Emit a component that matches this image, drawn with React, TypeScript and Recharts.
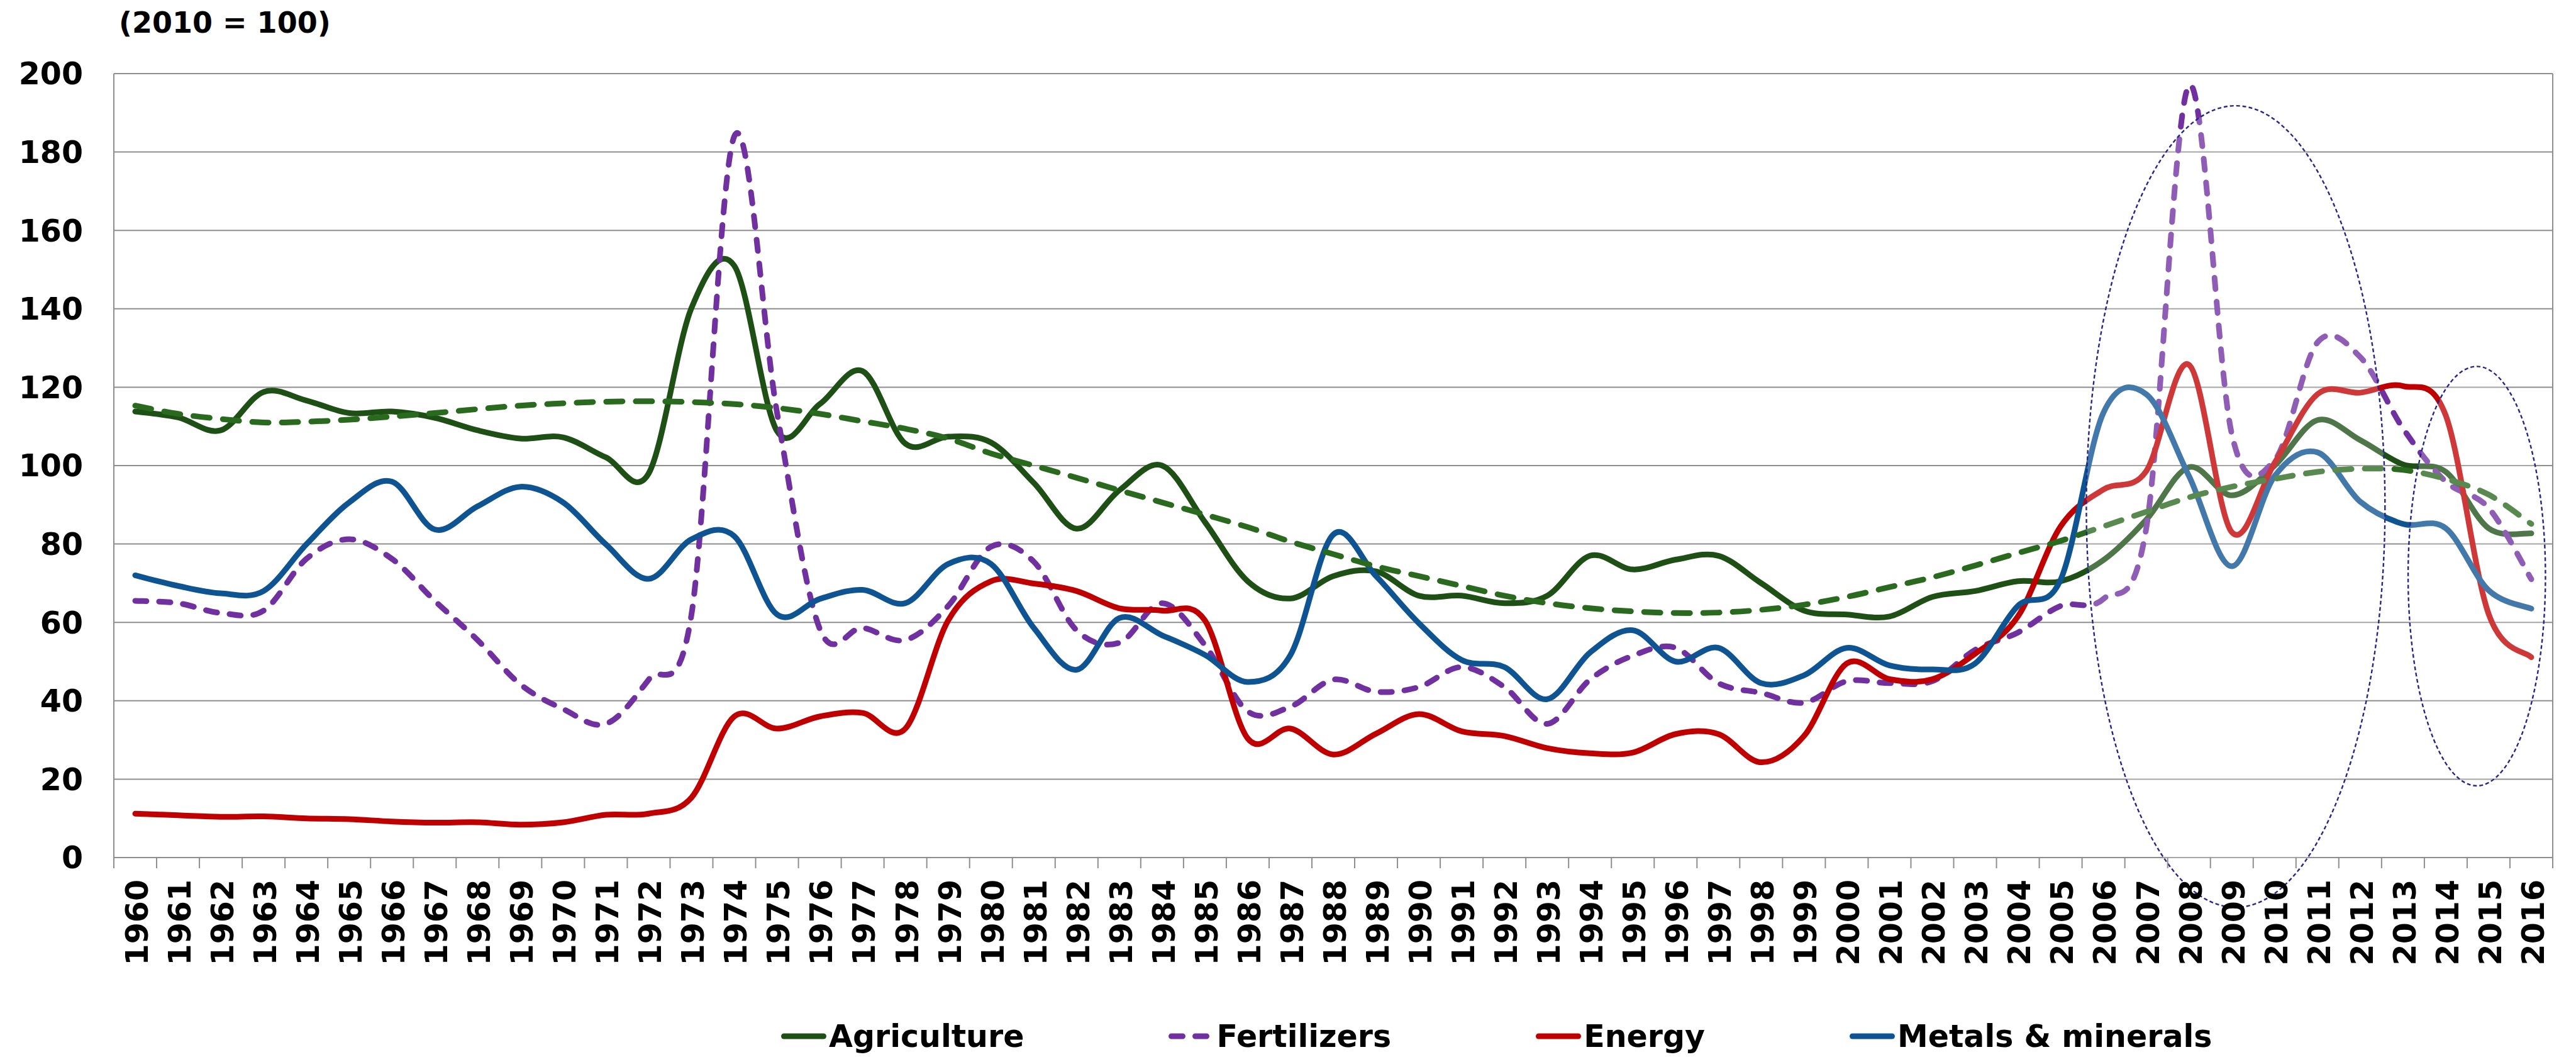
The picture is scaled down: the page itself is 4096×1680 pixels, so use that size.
import React from 'react';
import { LineChart, Line, XAxis, YAxis, CartesianGrid, ReferenceArea, ReferenceLine, Legend } from 'recharts';

const YEARS = [
  '1960','1961','1962','1963','1964','1965','1966','1967','1968','1969',
  '1970','1971','1972','1973','1974','1975','1976','1977','1978','1979',
  '1980','1981','1982','1983','1984','1985','1986','1987','1988','1989',
  '1990','1991','1992','1993','1994','1995','1996','1997','1998','1999',
  '2000','2001','2002','2003','2004','2005','2006','2007','2008','2009',
  '2010','2011','2012','2013','2014','2015','2016',
];

const AGRICULTURE = [
  113.8, 112.3, 109, 118.8, 116.6, 113.4, 113.8, 112.2, 109, 106.9,
  107.2, 102.1, 98, 140.2, 151, 108.8, 115.7, 124.1, 105.6, 107.4,
  105.9, 95.6, 83.9, 93.7, 100, 85.6, 70.5, 66.1, 71.8, 73,
  66.8, 66.8, 64.9, 66.8, 77, 73.5, 76, 77, 70, 63,
  62, 61.5, 66.5, 68, 70.5, 70.5, 75.9, 86.2, 99.6, 92.4,
  100, 111.6, 106.5, 100.3, 98.4, 84, 82.7,
];

const FERTILIZERS = [
  65.5, 64.9, 62.4, 63, 76.2, 81.2, 76.2, 65.5, 55.5, 44.2,
  37.9, 34.1, 45.4, 62, 184, 113.5, 58.3, 58.6, 55.5, 64.2,
  79.3, 75.5, 58, 54.8, 64.9, 54.2, 37.3, 38.5, 45.4, 42.3,
  43.5, 48.6, 43.5, 34.1, 45.4, 51.5, 53.5, 44.5, 42, 39.5,
  45, 44.5, 45, 53, 57.4, 64.2, 66, 84, 197, 108,
  101.4, 131.4, 127.7, 109.5, 95.9, 89.2, 71,
];

const ENERGY = [
  11.2, 10.8, 10.4, 10.5, 10, 9.8, 9.2, 8.9, 9, 8.4,
  9, 10.9, 11.2, 15.3, 36, 32.9, 36, 36.9, 32.9, 60.5,
  70.5, 69.9, 68, 63.6, 63, 60.5, 30.4, 32.9, 26.3, 31.6,
  36.6, 32.2, 31, 27.9, 26.6, 26.8, 31.5, 31.5, 24.3, 31,
  49.5, 45.5, 45.5, 52, 61.5, 84.5, 93.9, 98.6, 125.7, 83,
  100.7, 118.2, 118.6, 120.3, 112.8, 62.2, 51.1,
];

const METALS = [
  72, 69.3, 67.4, 68, 79.9, 90.6, 95.9, 83.7, 89.6, 94.6,
  90.6, 79.9, 71.1, 81.2, 82, 62, 66, 68.3, 64.9, 74.9,
  74.9, 58.6, 47.9, 61.1, 56.7, 51.7, 44.8, 51.7, 82.4, 71.8,
  59.8, 50.4, 48.6, 40.4, 52.3, 58, 50, 53.5, 44.5, 46.5,
  53.5, 49, 48, 49.5, 64.2, 70.9, 113.5, 118.2, 97.3, 74.3,
  97.3, 103.4, 90.8, 85.1, 84, 68.2, 63.5,
];

const AGRI_TREND = [
  115.3, 113.2, 111.9, 111, 111.2, 111.7, 112.5, 113.4, 114.4, 115.3,
  115.9, 116.3, 116.4, 116.2, 115.7, 114.7, 113.2, 111.3, 109.4, 106.9,
  103.1, 100, 96.9, 93.7, 90.6, 87.5, 84.3, 80.6, 77.4, 74.3,
  71.8, 69.3, 66.8, 64.9, 63.6, 62.8, 62.4, 62.5, 63.2, 64.5,
  66.5, 69, 71.5, 74.5, 77.7, 80.8, 84.5, 88.2, 91.9, 94.6,
  96.6, 98.4, 99.2, 98.9, 96.6, 92.6, 85.1,
];

const Y_TICKS = [0, 20, 40, 60, 80, 100, 120, 140, 160, 180, 200];

// Highlight ellipses (in category-index / value units): [x1, x2, y1, y2]
const HIGHLIGHT_1 = [45.6, 52.58, -12.7, 191.8];
const HIGHLIGHT_2 = [53.12, 56.33, 18.3, 125.3];

const SERIES = [
  { key: 'agri', name: 'Agriculture', color: '#1E5016', dash: undefined as string | undefined },
  { key: 'fert', name: 'Fertilizers', color: '#7030A0', dash: '18 20' },
  { key: 'energy', name: 'Energy', color: '#C00000', dash: undefined },
  { key: 'metals', name: 'Metals & minerals', color: '#0F5492', dash: undefined },
];
const TREND_COLOR = '#2A6A1E';

const rows = YEARS.map((year, i) => ({
  idx: i,
  year,
  agri: AGRICULTURE[i],
  fert: FERTILIZERS[i],
  energy: ENERGY[i],
  metals: METALS[i],
  trend: AGRI_TREND[i],
}));

// Layout
const W = 4096;
const H = 1680;
const M_TOP = 117;
const M_RIGHT = 37;
const M_BOTTOM = 117;
const Y_AXIS_W = 181;
const X_AXIS_H = 200;
const PLOT_W = W - M_RIGHT - Y_AXIS_W;
const BAND = PLOT_W / YEARS.length;
const FONT = '"DejaVu Sans", Verdana, sans-serif';
const GRID = '#8E8E8E';
const LW = 9;
const FS = 49;

// Excel-style smoothing (Catmull-Rom as cubic Bezier)
function excelSmooth(context: any) {
  let pts: number[][] = [];
  return {
    areaStart() {},
    areaEnd() {},
    lineStart() { pts = []; },
    lineEnd() {
      const n = pts.length;
      if (!n) return;
      context.moveTo(pts[0][0], pts[0][1]);
      if (n === 1) return;
      for (let i = 0; i < n - 1; i++) {
        const p0 = pts[i === 0 ? 0 : i - 1];
        const p1 = pts[i];
        const p2 = pts[i + 1];
        const p3 = pts[i + 2 < n ? i + 2 : n - 1];
        context.bezierCurveTo(
          p1[0] + (p2[0] - p0[0]) / 6, p1[1] + (p2[1] - p0[1]) / 6,
          p2[0] - (p3[0] - p1[0]) / 6, p2[1] - (p3[1] - p1[1]) / 6,
          p2[0], p2[1],
        );
      }
    },
    point(x: number, y: number) { pts.push([+x, +y]); },
  };
}

const XTick = (props: any) => {
  const { x, y, payload } = props;
  const i = payload.value as number;
  const last = i === YEARS.length - 1;
  return (
    <g>
      <line x1={x - BAND / 2} y1={y} x2={x - BAND / 2} y2={y + 17} stroke={GRID} strokeWidth={2} />
      {last && <line x1={x + BAND / 2} y1={y} x2={x + BAND / 2} y2={y + 17} stroke={GRID} strokeWidth={2} />}
      <text
        transform={`translate(${x + FS * 0.3645 + 2}, ${y + 35}) rotate(-90)`}
        textAnchor="end"
        fontFamily={FONT}
        fontWeight="bold"
        fontSize={FS}
        fill="#000"
      >
        {YEARS[i]}
      </text>
    </g>
  );
};

const EllipseShape = (props: any) => {
  const { x, y, width, height } = props;
  return (
    <ellipse
      cx={x + width / 2}
      cy={y + height / 2}
      rx={Math.abs(width) / 2}
      ry={Math.abs(height) / 2}
      fill="#ffffff"
      fillOpacity={0.22}
      stroke="#25258E"
      strokeWidth={2.4}
      strokeDasharray="6 4"
    />
  );
};

const LegendContent = () => (
  <div style={{ display: 'flex', alignItems: 'center', paddingLeft: 1242, gap: 230, height: 60 }}>
    {SERIES.map((s) => (
      <div key={s.key} style={{ display: 'flex', alignItems: 'center' }}>
        <svg width={72} height={14} style={{ display: 'block' }}>
          <line
            x1={LW / 2}
            y1={7}
            x2={72 - LW / 2}
            y2={7}
            stroke={s.color}
            strokeWidth={LW}
            strokeLinecap="round"
            strokeDasharray={s.dash}
          />
        </svg>
        <span
          style={{
            marginLeft: 4,
            fontFamily: FONT,
            fontWeight: 700,
            fontSize: FS,
            lineHeight: 1,
            color: '#000',
            whiteSpace: 'nowrap',
          }}
        >
          {s.name}
        </span>
      </div>
    ))}
  </div>
);

export default function App() {
  return (
    <div style={{ position: 'absolute', left: 0, top: 0, width: W, height: H, background: '#fff' }}>
      <div
        style={{
          position: 'absolute',
          left: 189,
          top: 13,
          fontFamily: FONT,
          fontWeight: 700,
          fontSize: 46,
          lineHeight: 1,
          color: '#000',
          whiteSpace: 'nowrap',
          zIndex: 2,
        }}
      >
        (2010 = 100)
      </div>
      <LineChart
        width={W}
        height={H}
        data={rows}
        margin={{ top: M_TOP, right: M_RIGHT, bottom: M_BOTTOM, left: 0 }}
      >
        <CartesianGrid vertical={false} stroke={GRID} strokeWidth={2} />
        <XAxis
          type="number"
          dataKey="idx"
          domain={[-0.5, YEARS.length - 0.5]}
          ticks={YEARS.map((_, i) => i)}
          interval={0}
          height={X_AXIS_H}
          tickLine={false}
          tickSize={0}
          tickMargin={0}
          tick={<XTick />}
          axisLine={{ stroke: GRID, strokeWidth: 2 }}
        />
        <YAxis
          type="number"
          domain={[0, 200]}
          ticks={Y_TICKS}
          interval={0}
          width={Y_AXIS_W}
          tickLine={false}
          tickSize={0}
          tickMargin={49}
          axisLine={{ stroke: GRID, strokeWidth: 2 }}
          tick={{ fill: '#000', fontSize: FS, fontWeight: 'bold', fontFamily: FONT }}
        />
        <ReferenceLine x={YEARS.length - 0.5} stroke={GRID} strokeWidth={2} />
        {SERIES.map((s) => (
          <Line
            key={s.key}
            dataKey={s.key}
            name={s.name}
            type={excelSmooth as any}
            stroke={s.color}
            strokeWidth={LW}
            strokeDasharray={s.dash}
            strokeLinecap="round"
            strokeLinejoin="round"
            dot={false}
            activeDot={false}
            isAnimationActive={false}
          />
        ))}
        <Line
          dataKey="trend"
          name="Agriculture trend"
          legendType="none"
          type={excelSmooth as any}
          stroke={TREND_COLOR}
          strokeWidth={LW}
          strokeDasharray="26 21"
          strokeLinecap="round"
          dot={false}
          activeDot={false}
          isAnimationActive={false}
        />
        <ReferenceArea
          x1={HIGHLIGHT_1[0]}
          x2={HIGHLIGHT_1[1]}
          y1={HIGHLIGHT_1[2]}
          y2={HIGHLIGHT_1[3]}
          ifOverflow="visible"
          shape={EllipseShape}
          {...({ zIndex: 1500 } as any)}
        />
        <ReferenceArea
          x1={HIGHLIGHT_2[0]}
          x2={HIGHLIGHT_2[1]}
          y1={HIGHLIGHT_2[2]}
          y2={HIGHLIGHT_2[3]}
          ifOverflow="visible"
          shape={EllipseShape}
          {...({ zIndex: 1500 } as any)}
        />
        <Legend
          layout="horizontal"
          verticalAlign="middle"
          align="center"
          wrapperStyle={{ top: 1617, left: 0, width: W, height: 60 }}
          content={<LegendContent />}
        />
      </LineChart>
    </div>
  );
}
